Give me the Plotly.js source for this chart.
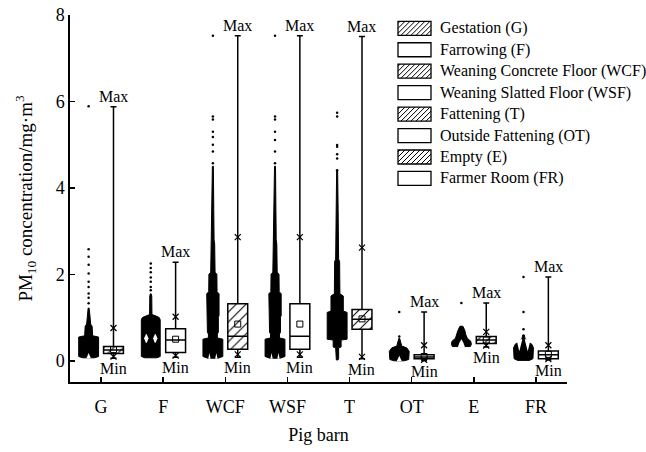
<!DOCTYPE html>
<html><head><meta charset="utf-8">
<script src="https://cdn.plot.ly/plotly-3.0.1.min.js"></script>
<style>html,body{margin:0;padding:0;background:#fff}</style>
</head><body><div id="chart" style="width:646px;height:452px"></div>
<script>
// ---------- data ----------
const categories = ['G','F','WCF','WSF','T','OT','E','FR'];
const legendNames = ['Gestation (G)','Farrowing (F)','Weaning Concrete Floor (WCF)','Weaning Slatted Floor (WSF)','Fattening (T)','Outside Fattening (OT)','Empty (E)','Farmer Room (FR)'];
const hatched = [true,false,true,false,true,false,true,false];

const q1     = [0.17, 0.19, 0.27, 0.27, 0.73, 0.05, 0.40, 0.05];
const median = [0.25, 0.48, 0.57, 0.57, 0.96, 0.09, 0.48, 0.14];
const q3     = [0.33, 0.74, 1.32, 1.32, 1.19, 0.14, 0.56, 0.23];
const meanV  = [0.26, 0.50, 0.85, 0.85, 0.97, 0.10, 0.48, 0.15];
const minV   = [0.06, 0.08, 0.08, 0.08, 0.05, 0.00, 0.32, 0.02];
const maxV   = [5.88, 2.28, 7.52, 7.52, 7.50, 1.13, 1.34, 1.94];
const p1     = [0.10, 0.12, 0.15, 0.15, 0.09, 0.02, 0.35, 0.04];
const p99    = [0.76, 1.02, 2.86, 2.86, 2.62, 0.36, 0.67, 0.36];

// density outline of the raw-data scatter (value, relative half-width)
const densY_G   = [0.07, 0.10, 0.55, 0.58, 0.80, 0.85, 1.00, 1.22];
const densW_G   = [0.60, 1.00, 1.00, 0.40, 0.35, 0.20, 0.15, 0.05];
const densY_F   = [0.07, 0.10, 0.95, 1.00, 1.04, 1.07, 1.50, 1.55];
const densW_F   = [0.60, 0.95, 0.95, 0.85, 0.50, 0.12, 0.10, 0.04];
const densY_WCF = [0.06, 0.10, 0.50, 0.53, 0.62, 0.66, 1.00, 1.05, 1.55, 1.60, 2.00, 2.05, 2.70, 2.80, 3.50, 4.50];
const densW_WCF = [0.50, 1.00, 1.00, 0.45, 0.45, 0.55, 0.55, 0.62, 0.62, 0.42, 0.40, 0.22, 0.18, 0.12, 0.09, 0.05];
const densY_WSF = [0.06, 0.10, 0.50, 0.53, 0.62, 0.66, 1.00, 1.05, 1.55, 1.60, 2.00, 2.05, 2.70, 2.80, 3.50, 4.50];
const densW_WSF = [0.50, 1.00, 1.00, 0.45, 0.45, 0.55, 0.55, 0.62, 0.62, 0.42, 0.40, 0.22, 0.18, 0.12, 0.09, 0.05];
const densY_T   = [0.02, 0.05, 0.30, 0.32, 0.48, 0.50, 1.12, 1.15, 1.50, 1.55, 2.30, 2.35, 3.50, 4.40];
const densW_T   = [0.08, 0.15, 0.15, 0.40, 0.40, 1.00, 1.00, 0.62, 0.62, 0.28, 0.25, 0.15, 0.10, 0.05];
const densY_OT  = [0.00, 0.03, 0.22, 0.30, 0.34, 0.45, 0.52];
const densW_OT  = [0.50, 0.95, 1.00, 0.75, 0.25, 0.12, 0.04];
const densY_E   = [0.33, 0.38, 0.45, 0.52, 0.60, 0.70, 0.80];
const densW_E   = [0.90, 1.00, 0.95, 0.60, 0.45, 0.35, 0.15];
const densY_FR  = [0.01, 0.05, 0.30, 0.38, 0.45, 0.52, 0.60];
const densW_FR  = [0.60, 0.95, 1.00, 0.85, 0.40, 0.15, 0.08];

// gaps inside the dense scatter (value, relative half-width) and their offset
const gapY_G = [0.06, 0.18],        gapW_G = [0.22, 0.00],        gapOff_G = [0];
const gapY_F = [0.42, 0.52, 0.62],  gapW_F = [0.05, 0.22, 0.03],  gapOff_F = [-0.45, 0.45];
const gapY_WCF = [0.05, 0.18],      gapW_WCF = [0.12, 0.00],      gapOff_WCF = [-0.35, 0.35];
const gapY_WSF = [0.05, 0.18],      gapW_WSF = [0.12, 0.00],      gapOff_WSF = [-0.35, 0.35];
const gapY_OT = [-0.01, 0.12],      gapW_OT = [0.25, 0.00],       gapOff_OT = [0];
const gapY_E = [0.32, 0.42, 0.50],  gapW_E = [0.35, 0.20, 0.00],  gapOff_E = [0];
const gapY_FR = [0.22, 0.50],       gapW_FR = [0.00, 0.30],       gapOff_FR = [-0.42, 0.42];

// isolated points above the dense parts
const dots_G   = [1.33, 1.46, 1.56, 1.71, 1.83, 2.02, 2.22, 2.41, 2.58, 5.89];
const dots_F   = [1.63, 1.71, 1.83, 1.93, 2.05, 2.15, 2.25];
const dots_WCF = [4.57, 4.84, 5.00, 5.18, 5.30, 5.58, 5.65, 7.52];
const dots_WSF = [4.57, 4.84, 5.11, 5.30, 5.58, 5.65, 7.52];
const dots_T   = [4.41, 4.68, 4.78, 4.95, 4.99, 5.65, 5.74];
const dots_OT  = [0.56, 1.13];
const dots_E   = [1.34];
const dots_FR  = [0.73, 1.13, 1.94];

// ---------- build ----------
const SCAT_OFF = -0.2, BOX_OFF = 0.2, HALF = 0.16, BOXW = 0.32;
const FONT = 'Liberation Serif, Times New Roman, serif';
const densY = [densY_G, densY_F, densY_WCF, densY_WSF, densY_T, densY_OT, densY_E, densY_FR];
const densW = [densW_G, densW_F, densW_WCF, densW_WSF, densW_T, densW_OT, densW_E, densW_FR];
const gaps = [[gapY_G,gapW_G,gapOff_G],[gapY_F,gapW_F,gapOff_F],[gapY_WCF,gapW_WCF,gapOff_WCF],[gapY_WSF,gapW_WSF,gapOff_WSF],null,[gapY_OT,gapW_OT,gapOff_OT],[gapY_E,gapW_E,gapOff_E],[gapY_FR,gapW_FR,gapOff_FR]];
const dots = [dots_G, dots_F, dots_WCF, dots_WSF, dots_T, dots_OT, dots_E, dots_FR];

function outline(c, ys, ws){
  const xs = [], yy = [];
  for (let k=0;k<ys.length;k++){ xs.push(c + HALF*ws[k]); yy.push(ys[k]); }
  for (let k=ys.length-1;k>=0;k--){ xs.push(c - HALF*ws[k]); yy.push(ys[k]); }
  xs.push(xs[0]); yy.push(yy[0]);
  return {xs, yy};
}

const traces = [];
categories.forEach((cat,i)=>{
  const c = i + SCAT_OFF;
  const o = outline(c, densY[i], densW[i]);
  traces.push({type:'scatter', mode:'lines', x:o.xs, y:o.yy, fill:'toself', fillcolor:'black',
    line:{color:'black', width:1}, hoverinfo:'skip', showlegend:false});
  if (gaps[i]){
    const [gy, gw, goff] = gaps[i];
    goff.forEach(off=>{
      const g = outline(c + off*HALF, gy, gw);
      traces.push({type:'scatter', mode:'lines', x:g.xs, y:g.yy, fill:'toself', fillcolor:'white',
        line:{color:'white', width:0}, hoverinfo:'skip', showlegend:false});
    });
  }
  traces.push({type:'scatter', mode:'markers', x:dots[i].map(()=>c), y:dots[i],
    marker:{color:'black', size:2.5}, hoverinfo:'skip', showlegend:false});
});

const boxX = categories.map((_,i)=>i + BOX_OFF);
traces.push({type:'bar', x:boxX, base:q1, y:q3.map((v,i)=>v-q1[i]), width:BOXW,
  marker:{color:'white', line:{width:0},
    pattern:{shape:hatched.map(h=>h?'/':''), fgcolor:'black', bgcolor:'white', size:7, solidity:0.15}},
  hoverinfo:'skip', showlegend:false});
traces.push({type:'box', orientation:'v', x:boxX, q1:q1, median:median, q3:q3,
  lowerfence:minV, upperfence:maxV, width:BOXW, whiskerwidth:0.3, boxpoints:false,
  fillcolor:'rgba(0,0,0,0)', line:{color:'black', width:1.5}, hoverinfo:'skip', showlegend:false});
traces.push({type:'scatter', mode:'markers', x:boxX, y:meanV,
  marker:{symbol:'square-open', size:6, color:'black', line:{width:1}}, hoverinfo:'skip', showlegend:false});
traces.push({type:'scatter', mode:'markers', x:boxX.concat(boxX), y:p1.concat(p99),
  marker:{symbol:'x-thin-open', size:6, color:'black', line:{width:1.2, color:'black'}}, hoverinfo:'skip', showlegend:false});

const annotations = [];
categories.forEach((cat,i)=>{
  annotations.push({x:boxX[i], y:maxV[i], xref:'x', yref:'y', text:'Max', showarrow:false,
    yanchor:'bottom', font:{family:FONT, size:16, color:'black'}});
  annotations.push({x:boxX[i], y:minV[i], xref:'x', yref:'y', text:'Min', showarrow:false,
    yanchor:'top', font:{family:FONT, size:16, color:'black'}});
});

// manual legend (wide hatched swatches)
const W = 646, H = 452, ML = 70, MR = 79, MT = 15, MB = 70;
const PW = W-ML-MR, PH = H-MT-MB;
const px2x = p => (p-ML)/PW, py2y = p => (H-MB-p)/PH;
const shapes = [];
const LX0 = 398, LX1 = 431, LY0 = 28.3, LDY = 21.45, SH = 14;
legendNames.forEach((name,k)=>{
  const yc = LY0 + k*LDY;
  const y0 = yc + SH/2, y1 = yc - SH/2;  // px: bottom, top
  shapes.push({type:'rect', xref:'paper', yref:'paper', x0:px2x(LX0), x1:px2x(LX1), y0:py2y(y0), y1:py2y(y1),
    line:{color:'black', width:1.3}, fillcolor:'white'});
  if (hatched[k]){
    let d = '';
    const w = LX1-LX0, h = SH, step = 5;
    for (let t=-h+2; t<w; t+=step){
      let sx = t, sy = 0, ex = t+h, ey = h;
      if (sx < 0){ sy = -sx; sx = 0; }
      if (ex > w){ ey = h - (ex - w); ex = w; }
      d += `M${px2x(LX0+sx)},${py2y(y0-sy)}L${px2x(LX0+ex)},${py2y(y0-ey)}`;
    }
    shapes.push({type:'path', xref:'paper', yref:'paper', path:d, line:{color:'black', width:1}});
  }
  annotations.push({xref:'paper', yref:'paper', x:px2x(438), y:py2y(yc), text:name, showarrow:false,
    xanchor:'left', yanchor:'middle', font:{family:FONT, size:16, color:'black'}});
});

const layout = {
  width:W, height:H, margin:{l:ML, r:MR, t:MT, b:MB},
  paper_bgcolor:'white', plot_bgcolor:'white', showlegend:false, barmode:'overlay',
  font:{family:FONT, color:'black'},
  xaxis:{range:[-0.5,7.5], tickmode:'array', tickvals:categories.map((_,i)=>i), ticktext:categories,
    ticks:'inside', ticklen:5, tickwidth:1.5, tickcolor:'black', showline:true, linecolor:'black', linewidth:1.6,
    showgrid:false, zeroline:false, tickfont:{family:FONT, size:18, color:'black'}, ticklabelstandoff:8,
    title:{text:'Pig barn', font:{family:FONT, size:18, color:'black'}, standoff:12}},
  yaxis:{range:[-0.49,8], tickmode:'array', tickvals:[0,2,4,6,8],
    ticks:'inside', ticklen:5, tickwidth:1.5, tickcolor:'black', showline:true, linecolor:'black', linewidth:1.6,
    showgrid:false, zeroline:false, tickfont:{family:FONT, size:18, color:'black'}, ticklabelstandoff:0,
    title:{text:'PM<sub>10</sub> concentration/mg·m<sup>3</sup>', font:{family:FONT, size:19, color:'black'}, standoff:18}},
  shapes:shapes, annotations:annotations
};
Plotly.newPlot('chart', traces, layout, {staticPlot:true, displayModeBar:false});
</script></body></html>
